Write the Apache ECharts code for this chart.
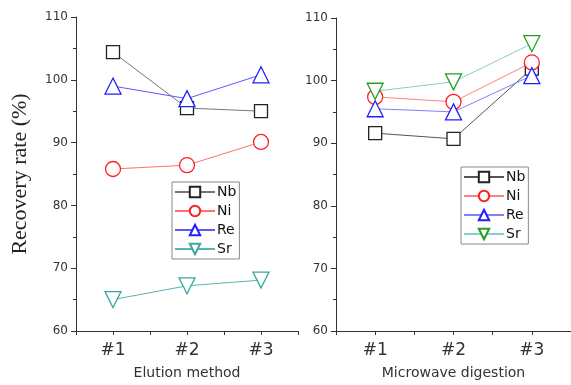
<!DOCTYPE html>
<html><head><meta charset="utf-8">
<script src="https://cdn.jsdelivr.net/npm/echarts@6/dist/echarts.min.js"></script>
<style>html,body{margin:0;padding:0;background:#fff}#c{width:571px;height:385px}</style>
</head><body><div id="c"></div>
<script>
var categories = ['#1', '#2', '#3'];
var yTicks = [60, 70, 80, 90, 100, 110];
var elements = ['Nb', 'Ni', 'Re', 'Sr'];
// Elution method
var elutionNb = [104.4, 95.5, 95.0];
var elutionNi = [85.8, 86.4, 90.1];
var elutionRe = [99.0, 97.0, 100.8];
var elutionSr = [65.0, 67.2, 68.1];
// Microwave digestion
var microNb = [91.6, 90.7, 101.9];
var microNi = [97.4, 96.6, 102.9];
var microRe = [95.5, 95.0, 100.8];
var microSr = [98.3, 99.8, 105.9];

var symbols = ['rect', 'circle', 'triangle', 'triangle'];
var rot = [0, 0, 0, 180];
var sizes = [13, 15, 16, 16];
var leftLine = ['#777777', '#ff7070', '#5a5aff', '#55b5b0'];
var leftMark = ['#222222', '#ff2020', '#2020ff', '#3aa8a0'];
var rightLine = ['#555555', '#ff8080', '#8080ff', '#88cccc'];
var rightMark = ['#222222', '#ff2020', '#2020ff', '#22a022'];

var leftData = [elutionNb, elutionNi, elutionRe, elutionSr];
var rightData = [microNb, microNi, microRe, microSr];

var axisCol = '#333';
var sans = 'DejaVu Sans';
function yAx(gi, name) {
  return {
    type: 'value', gridIndex: gi, min: yTicks[0], max: yTicks[yTicks.length - 1], interval: 10,
    name: name, nameLocation: 'middle', nameGap: 45,
    nameTextStyle: { fontFamily: 'Liberation Serif', fontSize: 22, color: '#222' },
    axisLine: { show: true, lineStyle: { color: axisCol, width: 1 } },
    axisTick: { show: true, inside: false, length: 5, lineStyle: { color: axisCol } },
    minorTick: { show: true, splitNumber: 2, length: 3, lineStyle: { color: axisCol } },
    splitLine: { show: false },
    axisLabel: { fontFamily: sans, fontSize: 12, color: '#333', margin: 8 }
  };
}
function xAx(gi, name) {
  return {
    type: 'category', gridIndex: gi, data: categories, boundaryGap: true,
    name: name, nameLocation: 'middle', nameGap: 35,
    nameTextStyle: { fontFamily: sans, fontSize: 14, color: '#333' },
    axisLine: { show: true, lineStyle: { color: axisCol, width: 1 } },
    axisTick: { show: true, length: 4, lineStyle: { color: axisCol } },
    axisLabel: { fontFamily: sans, fontSize: 17, color: '#333', margin: 11 }
  };
}
function xTickAx(gi) {
  return {
    type: 'category', gridIndex: gi, data: categories, boundaryGap: true, position: 'bottom',
    axisLine: { show: false },
    axisTick: { show: true, alignWithLabel: true, length: 4, lineStyle: { color: axisCol } },
    axisLabel: { show: false }
  };
}
var series = [];
elements.forEach(function (el, i) {
  series.push({
    name: el, type: 'line', xAxisIndex: 0, yAxisIndex: 0, data: leftData[i],
    symbol: symbols[i], symbolRotate: rot[i], symbolSize: sizes[i], showSymbol: true,
    lineStyle: { color: leftLine[i], width: 1 },
    itemStyle: { color: '#fff', borderColor: leftMark[i], borderWidth: 1.3 },
    animation: false
  });
});
elements.forEach(function (el, i) {
  series.push({
    name: el + '\u200b', type: 'line', xAxisIndex: 1, yAxisIndex: 1, data: rightData[i],
    symbol: symbols[i], symbolRotate: rot[i], symbolSize: sizes[i], showSymbol: true,
    lineStyle: { color: rightLine[i], width: 1 },
    itemStyle: { color: '#fff', borderColor: rightMark[i], borderWidth: 1.3 },
    animation: false
  });
});
function leg(names, left, top) {
  return {
    data: names, left: left, top: top, orient: 'vertical',
    itemWidth: 40, itemHeight: 13, itemGap: 5, padding: [3, 3, 3, 2],
    borderColor: '#888', borderWidth: 1,
    textStyle: { fontFamily: sans, fontSize: 14, color: '#111', padding: [0, 0, 0, -3] },
    formatter: function (n) { return n.replace('\u200b', ''); },
    selectedMode: false
  };
}
var chart = echarts.init(document.getElementById('c'), null, { renderer: 'canvas' });
chart.setOption({
  backgroundColor: '#fff',
  animation: false,
  grid: [
    { left: 76, top: 17, width: 222, height: 320 },
    { left: 336, top: 18, width: 240, height: 320 }
  ],
  xAxis: [xAx(0, 'Elution method'), xAx(1, 'Microwave digestion'), xTickAx(0), xTickAx(1)],
  yAxis: [yAx(0, 'Recovery rate (%)'), yAx(1, '')],
  legend: [
    leg(elements, 172, 182),
    leg(elements.map(function (e) { return e + '\u200b'; }), 461, 167)
  ],
  series: series
});
</script></body></html>
